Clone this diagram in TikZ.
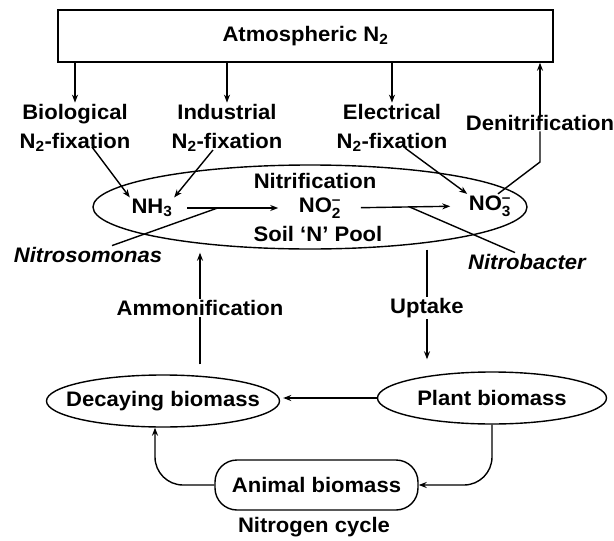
\documentclass[tikz,border=0pt]{standalone}
\usepackage{amsmath}
\usepackage{fontspec}
\setmainfont[FakeStretch=1.05]{Liberation Sans}
\usepackage{tikz}
\usetikzlibrary{calc,arrows.meta,shapes.geometric}

\begin{document}
\begin{tikzpicture}[x=1pt, y=-1pt, >={Stealth[length=8pt,width=6pt]}, line width=1.4pt,
    txt/.style={font=\bfseries\fontsize{21}{29}\selectfont, align=center, inner sep=1pt},
    itxt/.style={txt, font=\bfseries\itshape\fontsize{21}{29}\selectfont},
    pool/.style={draw, ellipse, minimum width=434pt, minimum height=84pt, inner sep=0pt},
    mass/.style={draw, ellipse, minimum height=52pt, inner sep=0pt}]
    \useasboundingbox (0,0) rectangle (614,541);
    % atmosphere and the three fixations
    \node[draw, txt, minimum width=495pt, minimum height=52pt] (atm) at (305.5,36) {Atmospheric N\textsubscript{2}};
    \node[txt] (bio) at (75,128) {Biological\\N\textsubscript{2}-fixation};
    \node[txt] (ind) at (227,128) {Industrial\\N\textsubscript{2}-fixation};
    \node[txt] (ele) at (392,128) {Electrical\\N\textsubscript{2}-fixation};
    \node[txt, inner sep=0pt] (denit) at (540,123) {Denitrification};
    \draw[->] (atm.south -| bio) -- (bio.north);
    \draw[->] (atm.south -| ind) -- (ind.north);
    \draw[->] (atm.south -| ele) -- (ele.north);
    \coordinate (bioS) at (92,147);
    \coordinate (indS) at (213,150);
    \coordinate (eleS) at (405,148);
    \coordinate (dbend) at (540,162);
    % soil N pool
    \node[pool] (pool) at (310,207) {};
    \node[txt, inner sep=0pt] (nitrif) at (315,181) {Nitrification};
    \node[txt] (nh3) at (152,208) {NH\textsubscript{3}};
    \node[txt, inner sep=0pt] (no2) at (320,208) {NO$_{\text{2}}^{\text{--}}$};
    \node[txt] (no3) at (490,206) {NO$_{\text{3}}^{\text{--}}$};
    \node[txt, inner sep=0pt] (soil) at (318,234) {Soil `N' Pool};
    \node[itxt] (nitroso) at (88,255) {Nitrosomonas};
    \node[itxt] (nitrob) at (527,262) {Nitrobacter};
    \draw[->, shorten <=13pt, shorten >=20pt] (nh3.east) -- (no2.west) coordinate[pos=0.35] (nsjoin);
    \draw[->, shorten <=19pt, shorten >=17pt] (no2.east) -- (no3.west) coordinate[pos=0.54] (nbjoin);
    \draw (nsjoin) -- ([xshift=24pt]nitroso.north);
    \draw (nbjoin) -- ([xshift=-12pt]nitrob.north);
    \draw[->] (bioS) -- (nh3.north west);
    \draw[->] (indS) -- (nh3.north east);
    \draw[->] (eleS) -- (no3.north west);
    \draw ([xshift=8pt]no3.north) -- (dbend) -- (denit.south);
    \draw[->] (denit.north) -- (atm.south -| denit.north);
    % biomass
    \node[mass, minimum width=233pt, label={[txt]center:Decaying biomass}] (decay) at (163,401) {};
    \node[mass, minimum width=229pt, label={[txt]center:Plant biomass}] (plant) at (492,398) {};
    \node[draw, txt, rounded corners=22pt, minimum width=203pt, minimum height=50pt] (animal) at (316.5,485) {Animal biomass};
    \node[txt] (ammon) at (200,308) {Ammonification};
    \node[txt] (uptake) at (427,308) {Uptake};
    \draw[->, shorten >=3pt] (ammon.north) -- (ammon |- pool.south);
    \draw[shorten <=10pt] (ammon |- decay.north) -- (ammon.south);
    \draw (uptake |- pool.south) -- (uptake.north);
    \draw[->, shorten >=12pt] (uptake.south) -- (uptake |- plant.north);
    \draw[->, shorten >=3pt] (plant.west) -- (plant.west -| decay.east);
    \draw[->, rounded corners=28pt] (plant.south) |- (animal.east);
    \draw[->, rounded corners=28pt] (animal.west) -| ([xshift=-8pt]decay.south);
    \node[txt] (title) at (314,527) {Nitrogen cycle};
\end{tikzpicture}
\end{document}
